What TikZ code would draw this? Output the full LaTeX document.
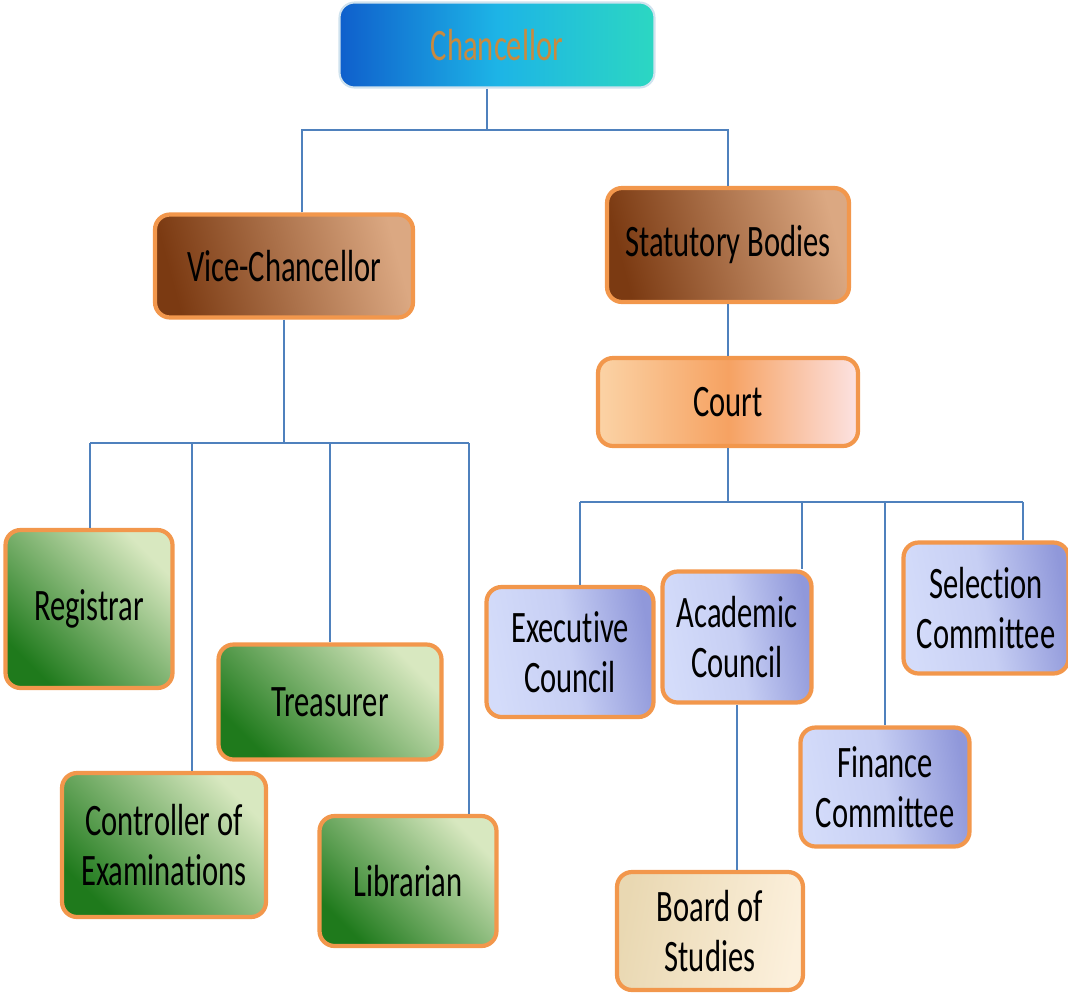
\documentclass[tikz,border=0pt]{standalone}
\usepackage{fontspec}
\setmainfont{Carlito}[FakeStretch=0.68,Ligatures={NoCommon,NoContextual}]
\newcommand{\boxfont}{\fontsize{25.6pt}{28.5pt}\selectfont}

\definecolor{linkblue}{HTML}{4F81BD}
\definecolor{rimorange}{HTML}{F2974C}
\definecolor{chblue}{HTML}{0F5FCC}
\definecolor{chmid}{HTML}{1DB4E6}
\definecolor{chcyan}{HTML}{2CD7C2}
\definecolor{chrim}{HTML}{CFE2EE}
\definecolor{chtext}{HTML}{C98A3E}
\definecolor{brdark}{HTML}{7B3A12}
\definecolor{brlight}{HTML}{DBA882}
\definecolor{grdark}{HTML}{1F7A1C}
\definecolor{grlight}{HTML}{D8E8C0}
\definecolor{lvlight}{HTML}{D4DCFA}
\definecolor{lvdark}{HTML}{9098DA}
\definecolor{ctpeach}{HTML}{FBD3A6}
\definecolor{ctorange}{HTML}{F6A262}
\definecolor{ctpink}{HTML}{FCE2E2}
\definecolor{crtan}{HTML}{E9D8B2}
\definecolor{crlight}{HTML}{FCF0DC}

\begin{document}
\begin{tikzpicture}[x=0.02cm,y=-0.02cm,
    box/.style={draw=rimorange,line width=2.4pt,rounded corners=0.3cm,align=center,font=\boxfont,inner sep=0pt},
    link/.style={draw=linkblue,line width=1.2pt},
    brownbox/.style={box,left color=brdark,right color=brlight,shading angle=105},
    greenbox/.style={box,left color=grdark,right color=grlight,shading angle=135},
    lavbox/.style={box,left color=lvlight,right color=lvdark,middle color=lvlight!80!lvdark,shading angle=100}]

  \useasboundingbox (0,0) rectangle (1068,994);

  %%%%%%%%%% TOP %%%%%%%%%%
  \node[box,draw=chrim,line width=1.2pt,left color=chblue,right color=chcyan,middle color=chmid,text=chtext,
        minimum width=6.3cm,minimum height=1.7cm] (ch) at (497,45) {Chancellor};

  \node[brownbox,minimum width=5.16cm,minimum height=2.06cm] (vc) at (284,266) {Vice-Chancellor};
  \node[brownbox,minimum width=4.84cm,minimum height=2.28cm] (sb) at (728,245) {Statutory Bodies};

  \node[box,left color=ctpeach,right color=ctpink,middle color=ctorange,
        minimum width=5.2cm,minimum height=1.76cm] (ct) at (728,402) {Court};

  %%%%%%%%%% LEFT SIDE %%%%%%%%%%
  \node[greenbox,minimum width=3.34cm,minimum height=3.16cm] (reg) at (89,609) {Registrar};
  \node[greenbox,minimum width=4.46cm,minimum height=2.3cm] (tr) at (330,702) {Treasurer};
  \node[greenbox,minimum width=4.08cm,minimum height=2.88cm] (coe) at (164,845) {Controller of\\Examinations};
  \node[greenbox,minimum width=3.54cm,minimum height=2.6cm] (lib) at (408,881) {Librarian};

  %%%%%%%%%% RIGHT SIDE %%%%%%%%%%
  \node[lavbox,minimum width=3.34cm,minimum height=2.6cm] (ec) at (570,652) {Executive\\Council};
  \node[lavbox,minimum width=2.98cm,minimum height=2.62cm] (ac) at (737,637) {Academic\\Council};
  \node[lavbox,minimum width=3.3cm,minimum height=2.62cm] (sc) at (986,608) {Selection\\Committee};
  \node[lavbox,minimum width=3.38cm,minimum height=2.38cm] (fc) at (885,787) {Finance\\Committee};

  \node[box,left color=crtan,right color=crlight,shading angle=80,
        minimum width=3.72cm,minimum height=2.36cm] (bs) at (710,931) {Board of\\Studies};

  % bus points
  \coordinate (t1) at (487,130);
  \coordinate (t2) at (302,130);
  \coordinate (t3) at (728,130);

  \coordinate (v1) at (284,443);
  \coordinate (v2) at (90,443);
  \coordinate (v3) at (192,443);
  \coordinate (v4) at (330,443);
  \coordinate (v5) at (469,443);

  \coordinate (c1) at (728,502);
  \coordinate (c2) at (580,502);
  \coordinate (c3) at (802,502);
  \coordinate (c4) at (885,502);
  \coordinate (c5) at (1023,502);

  \draw[link] (ch.south -| t1) -- (t1);
  \draw[link] (vc.north -| t2) -- (t2) -- (t3) -- (sb.north);

  \draw[link] (sb) -- (ct);

  \draw[link] (vc) -- (v1);
  \draw[link] (v2) -- (v5);
  \draw[link] (v2) -- (reg.north -| v2);
  \draw[link] (v3) -- (coe.north -| v3);
  \draw[link] (v4) -- (tr.north);
  \draw[link] (v5) -- (lib.north -| v5);

  \draw[link] (ct) -- (c1);
  \draw[link] (c2) -- (c5);
  \draw[link] (c2) -- (ec.north -| c2);
  \draw[link] (c3) -- (ac.north -| c3);
  \draw[link] (c4) -- (fc.north);
  \draw[link] (c5) -- (sc.north -| c5);

  \draw[link] (ac) -- (bs.north -| ac);
\end{tikzpicture}
\end{document}
